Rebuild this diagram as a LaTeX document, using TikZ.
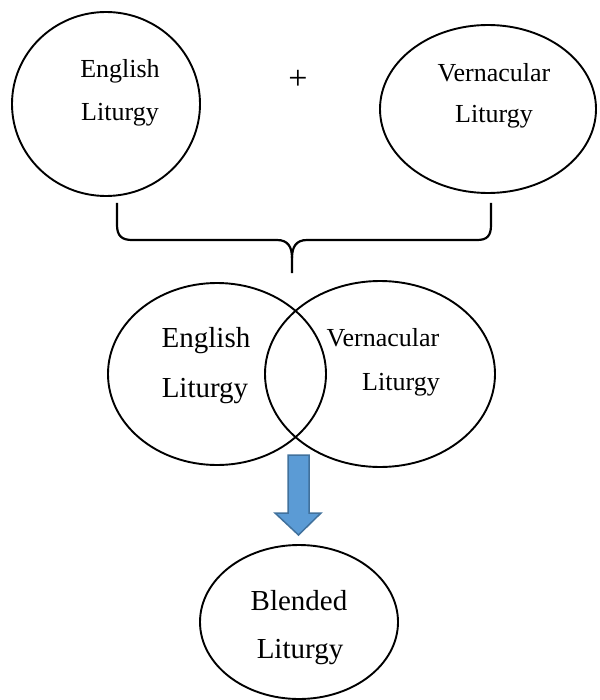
\documentclass[tikz,border=0pt]{standalone}
\usepackage{fontspec}
\setmainfont{Liberation Serif}
\usepackage{tikz}
\usetikzlibrary{shapes.geometric, positioning}
\definecolor{arrowblue}{HTML}{5B9BD5}
\definecolor{arrowedge}{HTML}{41719C}

\begin{document}
\begin{tikzpicture}[x=0.5pt,y=-0.5pt,
    oval/.style={draw, ellipse, line width=0.95pt, inner sep=0pt},
    small/.style={font=\fontsize{13}{15}\selectfont},
    big/.style={font=\fontsize{14.5}{17}\selectfont}]

\useasboundingbox (0,0) rectangle (599,700);

% Top ovals
\node[oval, minimum width=94pt, minimum height=92pt] (engTop) at (106,104) {};
\node[oval, minimum width=108pt, minimum height=84pt] (verTop) at (488,109) {};

% Labels of top ovals
\node[small] (engTopA) at (120,71) {English};
\node[small] (engTopB) at (120,115) {Liturgy};
\node[small] (verTopA) at (494,73) {Vernacular};
\node[small] (verTopB) at (494,117) {Liturgy};
\node[font=\fontsize{17}{19}\selectfont] (plus) at (298,80) {+};

% Brace joining the two
\draw[line width=1.1pt] (117,203) -- (117,225) .. controls (117,236) and (122,240) .. (132,240)
    -- (277,240) .. controls (288,240) and (292,247) .. (292,258) -- (292,273);
\draw[line width=1.1pt] (292,258) .. controls (292,247) and (296,240) .. (307,240)
    -- (477,240) .. controls (487,240) and (491,236) .. (491,225) -- (491,203);

% Overlapping ovals
\node[oval, minimum width=109pt, minimum height=91pt] (engMid) at (217,374) {};
\node[oval, minimum width=115pt, minimum height=93pt] (verMid) at (380,374) {};

% Labels of overlapping ovals
\node[big] (engMidA) at (206,341) {English};
\node[big] (engMidB) at (205,391) {Liturgy};
\node[small] (verMidA) at (383,338) {Vernacular};
\node[small] (verMidB) at (401,385) {Liturgy};

% Block arrow
\draw[fill=arrowblue, draw=arrowedge, line width=0.75pt]
    (288,455) -- (309,455) -- (309,513) -- (321,513) -- (298.5,535)
    -- (275,513) -- (288,513) -- cycle;

% Bottom oval
\node[oval, minimum width=99pt, minimum height=77pt] (blend) at (299,622) {};
\node[big] (blendA) at (299,601) {Blended};
\node[big] (blendB) at (300,652) {Liturgy};

\end{tikzpicture}
\end{document}
